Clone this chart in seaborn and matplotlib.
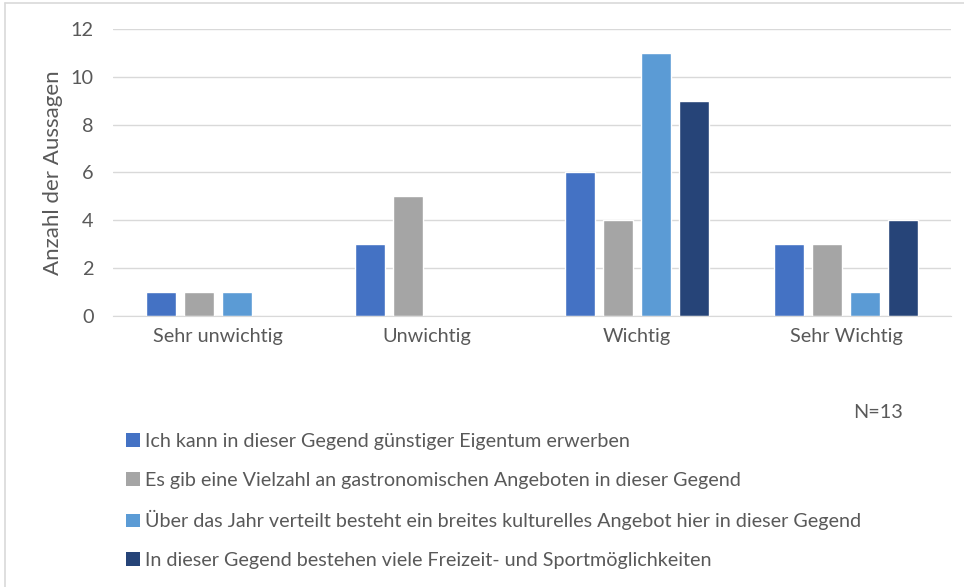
import pandas as pd
import seaborn as sns
import matplotlib.pyplot as plt
from matplotlib.lines import Line2D
from matplotlib.patches import Patch

# Werte aus der Umfrage
kategorien = ['Sehr unwichtig', 'Unwichtig', 'Wichtig', 'Sehr Wichtig']
serien = [
    'Ich kann in dieser Gegend günstiger Eigentum erwerben',
    'Es gib eine Vielzahl an gastronomischen Angeboten in dieser Gegend',
    'Über das Jahr verteilt besteht ein breites kulturelles Angebot hier in dieser Gegend',
    'In dieser Gegend bestehen viele Freizeit- und Sportmöglichkeiten',
]
eigentum = [1, 3, 6, 3]
gastro = [1, 5, 4, 3]
kultur = [1, 0, 11, 1]
freizeit = [0, 0, 9, 4]
farben = ['#4472C4', '#A5A5A5', '#5B9BD5', '#264478']
y_ticks = [0, 2, 4, 6, 8, 10, 12]

# Long format for seaborn
df = pd.DataFrame({
    'Kategorie': kategorien * 4,
    'Serie': [s for s in serien for _ in kategorien],
    'Anzahl': eigentum + gastro + kultur + freizeit,
})

sns.set_style('white')
plt.rcParams['font.family'] = ['Lato', 'DejaVu Sans']
text_col = '#595959'

fig = plt.figure(figsize=(9.64, 5.87), dpi=100)
ax = fig.add_axes([0.1172, 0.4617, 0.8693, 0.4889])

sns.barplot(data=df, x='Kategorie', y='Anzahl', hue='Serie', order=kategorien,
            hue_order=serien, palette=farben, width=0.726, gap=0.21,
            ax=ax, legend=False, saturation=1)

ax.set_ylim(0, 12)
ax.set_xlim(-0.5, 3.5)
ax.set_yticks(y_ticks)
ax.yaxis.grid(True, color='#D9D9D9', linewidth=1)
ax.set_axisbelow(True)
for side in ['top', 'right', 'left']:
    ax.spines[side].set_visible(False)
ax.spines['bottom'].set_color('#D9D9D9')
ax.tick_params(axis='both', length=0, labelsize=14.3, colors=text_col, pad=9)
ax.tick_params(axis='y', pad=14)
ax.set_xlabel('')
ax.set_ylabel('Anzahl der Aussagen', fontsize=16, color=text_col, labelpad=5)

fig.text(0.9367, 0.298, 'N=13', fontsize=14.3, color=text_col, ha='right', va='center')

# Legend below the plot
handles = [Patch(facecolor=c, edgecolor='none') for c in farben]
fig.legend(handles, serien, loc='upper left', bbox_to_anchor=(0.123, 0.276),
           frameon=False, fontsize=14.2, labelcolor=text_col, handlelength=0.7,
           handleheight=0.7, handletextpad=0.25, labelspacing=1.1, borderaxespad=0)

# thin frame at top and left like the screenshot
fig.add_artist(Line2D([0.0052, 1], [0.9949, 0.9949], color='#D9D9D9', lw=1.2))
fig.add_artist(Line2D([0.0052, 0.0052], [0.0, 0.9949], color='#D9D9D9', lw=1.2))

fig.savefig('out.png', dpi=100)
